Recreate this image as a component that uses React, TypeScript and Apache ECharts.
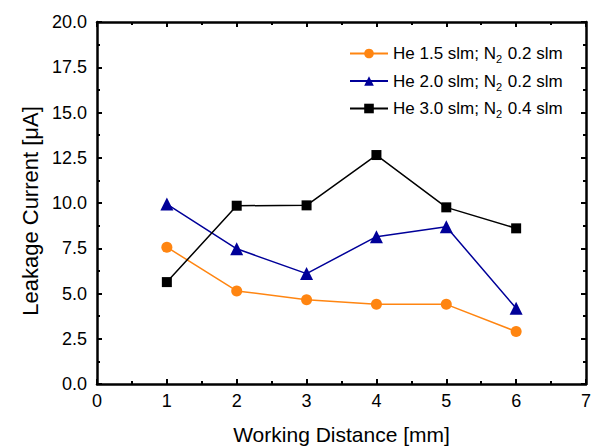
import React, { useEffect, useRef } from "react";
import * as echarts from "echarts";

const distances = [1, 2, 3, 4, 5, 6];
const seriesNames = [
  "He 1.5 slm; N2 0.2 slm",
  "He 2.0 slm; N2 0.2 slm",
  "He 3.0 slm; N2 0.4 slm",
];
const he15 = [7.56, 5.14, 4.66, 4.4, 4.4, 2.9];
const he20 = [9.94, 7.47, 6.1, 8.14, 8.69, 4.18];
const he30 = [5.63, 9.85, 9.87, 12.65, 9.76, 8.6];
const colors = ["#FF8511", "#000099", "#000000"];
const symbols = ["circle", "triangle", "rect"];
const symbolSizes = [11, 13, 10];

export default function App() {
  const ref = useRef<HTMLDivElement>(null);
  useEffect(() => {
    if (!ref.current) return;
    const chart = echarts.init(ref.current, undefined, { renderer: "svg" });
    const font = "'Liberation Sans', Arial, sans-serif";
    const values = [he15, he20, he30];
    const axisLine = { show: true, onZero: false, lineStyle: { color: "#000", width: 2.5 } };
    const baseX = {
      type: "value" as const,
      min: 0,
      max: 7,
      interval: 1,
      axisLine,
      axisTick: { show: true, inside: true, length: 5, lineStyle: { color: "#000", width: 2 } },
      minorTick: { show: true, splitNumber: 2, length: 3, lineStyle: { color: "#000", width: 2 } },
      splitLine: { show: false },
    };
    const baseY = {
      type: "value" as const,
      min: 0,
      max: 20,
      interval: 2.5,
      axisLine,
      axisTick: { show: true, inside: true, length: 5, lineStyle: { color: "#000", width: 2 } },
      minorTick: { show: true, splitNumber: 2, length: 3, lineStyle: { color: "#000", width: 2 } },
      splitLine: { show: false },
    };
    chart.setOption({
      animation: false,
      backgroundColor: "#fff",
      grid: { left: 97, right: 8, top: 22, bottom: 62, containLabel: false, outerBoundsMode: "none" },
      legend: {
        show: true,
        orient: "vertical",
        left: 349,
        top: 45,
        padding: 0,
        itemWidth: 38,
        itemHeight: 12,
        itemGap: 8,
        data: seriesNames,
        formatter: (name: string) => name.replace("N2", "N{sub|2}"),
        textStyle: {
          fontFamily: font,
          fontSize: 17,
          color: "#000",
          rich: {
            sub: { fontFamily: font, fontSize: 11, color: "#000", padding: [11, 1, 0, 0] },
          },
        },
      },
      xAxis: [
        {
          ...baseX,
          position: "bottom",
          name: "Working Distance [mm]",
          nameLocation: "middle",
          nameGap: 40,
          nameTextStyle: { fontFamily: font, fontSize: 21, color: "#000" },
          axisLabel: { show: true, fontFamily: font, fontSize: 18, color: "#000", margin: 8 },
        },
        { ...baseX, position: "top", axisLabel: { show: false } },
      ],
      yAxis: [
        {
          ...baseY,
          position: "left",
          name: "Leakage Current [μA]",
          nameLocation: "middle",
          nameGap: 50,
          nameTextStyle: { fontFamily: font, fontSize: 22, color: "#000", padding: [0, 16, 0, 0] },
          axisLabel: {
            show: true,
            fontFamily: font,
            fontSize: 18,
            color: "#000",
            margin: 10,
            formatter: (v: number) => v.toFixed(1),
          },
        },
        { ...baseY, position: "right", axisLabel: { show: false } },
      ],
      series: seriesNames.map((name, i) => ({
        name,
        type: "line",
        xAxisIndex: 0,
        yAxisIndex: 0,
        data: distances.map((d, j) => [d, values[i][j]]),
        symbol: symbols[i],
        symbolSize: symbolSizes[i],
        showAllSymbol: true,
        color: colors[i],
        itemStyle: { color: colors[i] },
        lineStyle: { color: colors[i], width: 1.5 },
      })),
    });
    return () => chart.dispose();
  }, []);
  return <div ref={ref} style={{ width: 594, height: 446, position: "absolute", left: 0, top: 0 }} />;
}
